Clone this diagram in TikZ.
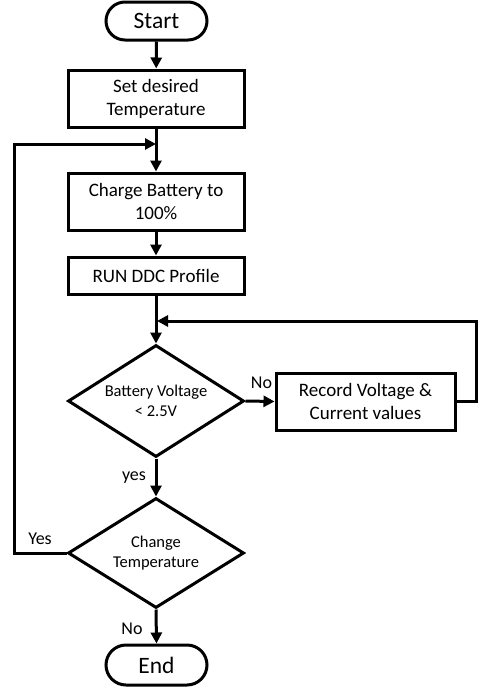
\documentclass[tikz,border=0pt]{standalone}
\usepackage{fontspec}
\setmainfont{Carlito}
\usetikzlibrary{shapes.geometric,arrows.meta}
\begin{document}
\begin{tikzpicture}[x=1pt,y=-1pt,
 line width=3pt,
 arr/.style={-{Triangle[length=11pt,width=11pt]}},
 term/.style={draw,rounded corners=19pt,minimum width=101pt,minimum height=38pt,inner sep=0pt,font=\fontsize{23.5}{28}\selectfont},
 proc/.style={draw,minimum width=176pt,inner sep=0pt,align=center,font=\fontsize{19}{23}\selectfont},
 dec/.style={draw,diamond,aspect=1.57,minimum width=176pt,minimum height=112pt,inner sep=0pt,align=center,font=\fontsize{16.5}{20.5}\selectfont},
 lab/.style={font=\fontsize{18}{22}\selectfont,inner sep=0pt}]
\path[fill=white,use as bounding box] (0,0) rectangle (479,689);

\node[term] (start) at (156.5,21) {Start};
\node[proc,minimum height=57pt] (set) at (156,98.5) {Set desired\\Temperature};
\node[proc,minimum height=57pt] (charge) at (156,201.5) {Charge Battery to\\100\%};
\node[proc,minimum height=37pt] (run) at (156,275.5) {RUN DDC Profile};
\node[dec] (d1) at (156,401) {Battery Voltage\\< 2.5V};
\node[proc,minimum width=179pt,minimum height=57pt] (rec) at (365.5,401.5) {Record Voltage \&\\Current values};
\node[dec,minimum height=110pt] (d2) at (156,553) {Change\\Temperature};
\node[term,minimum height=40pt,rounded corners=20pt] (end) at (156.5,665) {End};

\coordinate (j1) at (156,144);
\coordinate (l1) at (14,144);
\coordinate (j2) at (157,321);
\coordinate (r1) at (476,321);

\draw[arr] (start) -- (set);
\draw[arr] (set) -- (charge);
\draw[arr] (charge) -- (run);
\draw[arr] (run) -- (d1);
\draw[arr] (d1.east) -- (rec.west);
\draw[arr] (d1.south) -- (d2.north);
\draw[arr] (d2.south) -- (end.north);
\draw[arr] (rec.east) -| (r1) -- (j2);
\draw[arr] (d2.west) -| (l1) -- (j1);

\node[lab] (lno1) at (261.5,383) {No};
\node[lab] (lyes1) at (134,478) {yes};
\node[lab] (lyes2) at (40,539) {Yes};
\node[lab] (lno2) at (132,629) {No};
\end{tikzpicture}
\end{document}
